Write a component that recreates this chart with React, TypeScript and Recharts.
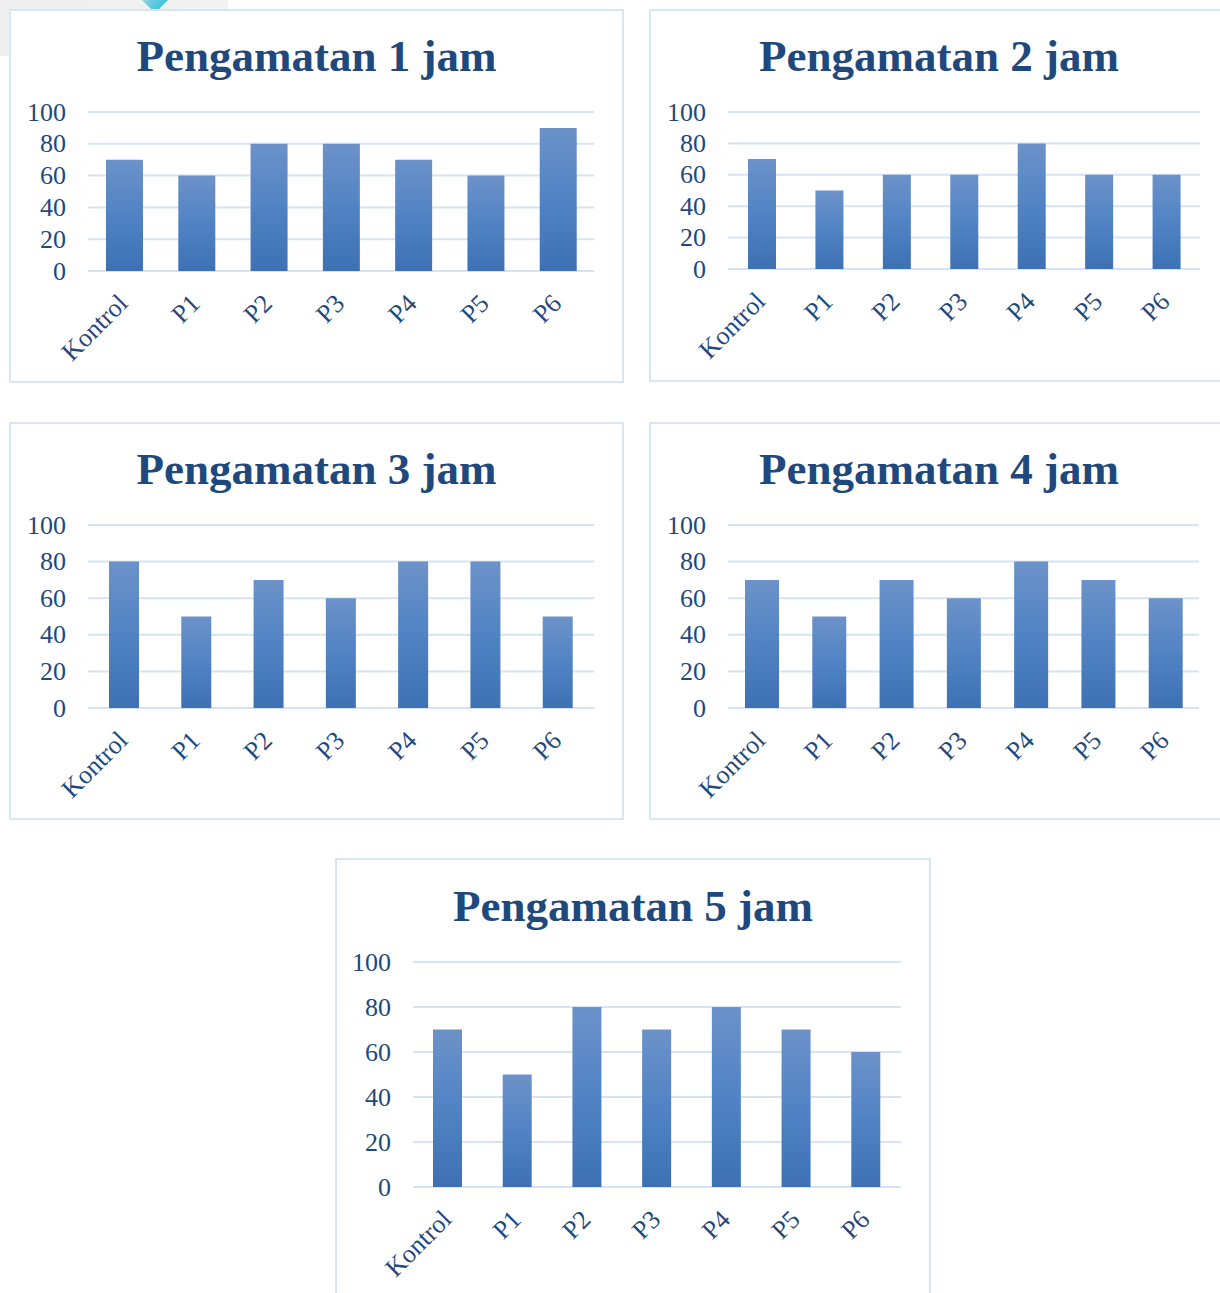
import { BarChart, Bar, XAxis, YAxis, CartesianGrid } from "recharts";

const CATS = ["Kontrol", "P1", "P2", "P3", "P4", "P5", "P6"];
const Y_TICKS = [0, 20, 40, 60, 80, 100];

const JAM1 = [70, 60, 80, 80, 70, 60, 90];
const JAM2 = [70, 50, 60, 60, 80, 60, 60];
const JAM3 = [80, 50, 70, 60, 80, 80, 50];
const JAM4 = [70, 50, 70, 60, 80, 70, 60];
const JAM5 = [70, 50, 80, 70, 80, 70, 60];

const TITLES = ["Pengamatan 1 jam", "Pengamatan 2 jam", "Pengamatan 3 jam", "Pengamatan 4 jam", "Pengamatan 5 jam"];

const INK = "#1f497d";
const GRID = "#d6e3f4";
const FONT = "'Liberation Serif', 'DejaVu Serif', serif";

type Box = { left: number; top: number; width: number; height: number };
type Plot = { left: number; right: number; top: number; bottom: number };

const PANELS: { values: number[]; box: Box; plot: Plot; bar: number; titleY: number }[] = [
  { values: JAM1, box: { left: 9, top: 9, width: 615, height: 374 }, plot: { left: 88, right: 594, top: 112, bottom: 271 }, bar: 37, titleY: 70 },
  { values: JAM2, box: { left: 649, top: 9, width: 580, height: 373 }, plot: { left: 728, right: 1200, top: 112, bottom: 269 }, bar: 28, titleY: 70 },
  { values: JAM3, box: { left: 9, top: 422, width: 615, height: 398 }, plot: { left: 88, right: 594, top: 525, bottom: 708 }, bar: 30, titleY: 483 },
  { values: JAM4, box: { left: 649, top: 422, width: 580, height: 398 }, plot: { left: 728, right: 1199, top: 525, bottom: 708 }, bar: 34, titleY: 483 },
  { values: JAM5, box: { left: 335, top: 858, width: 596, height: 445 }, plot: { left: 413, right: 901, top: 962, bottom: 1187 }, bar: 29, titleY: 920 },
];

function YTick(props: any) {
  const { x, y, payload } = props;
  return (
    <text x={x - 22} y={y} dy={8.5} textAnchor="end" fill={INK} fontSize={26} fontFamily={FONT}>
      {payload.value}
    </text>
  );
}

function XTick(props: any) {
  const { x, y, payload } = props;
  const tx = x + 5;
  const ty = y + 34;
  return (
    <text x={tx} y={ty} textAnchor="end" transform={`rotate(-45 ${tx} ${ty})`} fill={INK} fontSize={26} fontFamily={FONT}>
      {payload.value}
    </text>
  );
}

function Panel({ idx }: { idx: number }) {
  const p = PANELS[idx];
  const { box, plot } = p;
  const data = CATS.map((name, i) => ({ name, v: p.values[i] }));
  const gid = `barFill${idx}`;
  return (
    <div
      style={{
        position: "absolute",
        left: box.left,
        top: box.top,
        width: box.width,
        height: box.height,
        boxSizing: "border-box",
        border: "2px solid #dae5f4",
        background: "#fff",
      }}
    >
      <div
        style={{
          position: "absolute",
          left: -2,
          width: box.width,
          top: p.titleY - box.top - 38,
          textAlign: "center",
          fontFamily: FONT,
          fontWeight: 700,
          fontSize: 45,
          lineHeight: "45px",
          color: INK,
          whiteSpace: "nowrap",
        }}
      >
        {TITLES[idx]}
      </div>
      <div style={{ position: "absolute", left: -2, top: -2 }}>
        <BarChart
          width={box.width}
          height={box.height}
          data={data}
          margin={{ left: 0, top: plot.top - box.top, right: box.left + box.width - plot.right, bottom: 0 }}
        >
          <defs>
            <linearGradient id={gid} x1="0" y1="0" x2="0" y2="1">
              <stop offset="0%" stopColor="#6c92c9" />
              <stop offset="50%" stopColor="#5183c4" />
              <stop offset="100%" stopColor="#3d71b3" />
            </linearGradient>
          </defs>
          <CartesianGrid vertical={false} stroke={GRID} strokeWidth={2} />
          <XAxis
            dataKey="name"
            axisLine={false}
            tickLine={false}
            tickSize={0}
            tickMargin={0}
            interval={0}
            height={box.top + box.height - plot.bottom}
            tick={<XTick />}
          />
          <YAxis
            domain={[0, 100]}
            ticks={Y_TICKS}
            axisLine={false}
            tickLine={false}
            tickSize={0}
            tickMargin={0}
            width={plot.left - box.left}
            tick={<YTick />}
          />
          <Bar dataKey="v" fill={`url(#${gid})`} barSize={p.bar} isAnimationActive={false} />
        </BarChart>
      </div>
    </div>
  );
}

export default function App() {
  return (
    <div
      style={{
        position: "absolute",
        left: 0,
        top: 0,
        width: 1220,
        height: 1293,
        overflow: "hidden",
        background: "#fff",
      }}
    >
      <div
        style={{
          position: "absolute",
          left: 0,
          top: 0,
          width: 228,
          height: 56,
          background: "linear-gradient(90deg, #eeeeee, #f2f2f2)",
          overflow: "hidden",
        }}
      >
        <div
          style={{
            position: "absolute",
            left: 138,
            top: -28,
            width: 34,
            height: 34,
            transform: "rotate(45deg)",
            background: "linear-gradient(90deg, #d6e6ea, #3ec3da)",
          }}
        />
      </div>
      {PANELS.map((_, i) => (
        <Panel key={i} idx={i} />
      ))}
    </div>
  );
}
